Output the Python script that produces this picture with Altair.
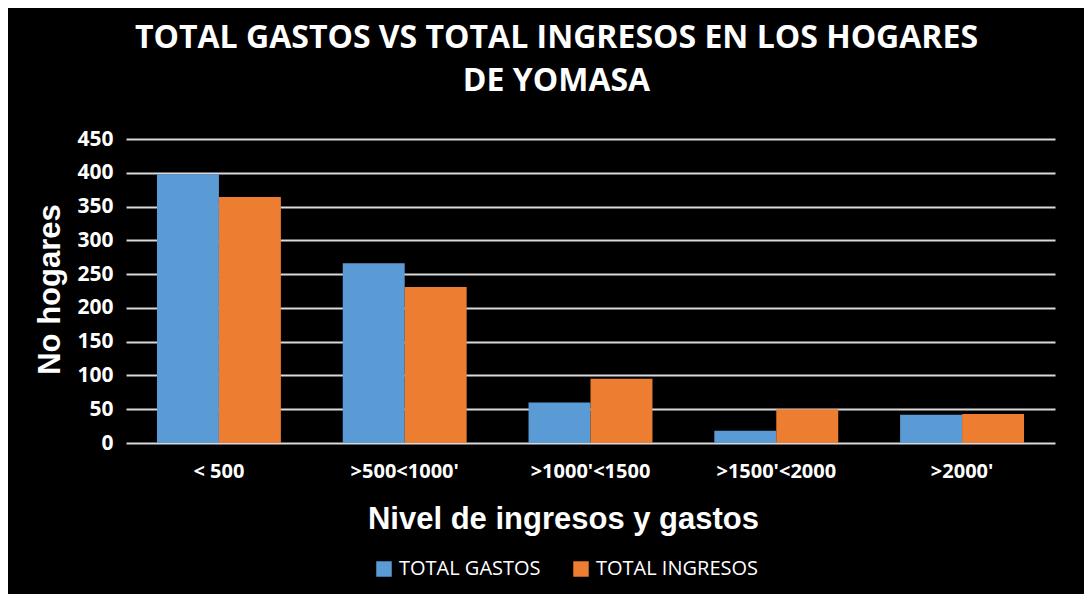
import altair as alt
import pandas as pd

categorias = ["< 500", ">500<1000'", ">1000'<1500", ">1500'<2000", ">2000'"]
total_gastos = [398, 266, 60, 18, 42]
total_ingresos = [364, 231, 95, 50, 43]
series = ["TOTAL GASTOS", "TOTAL INGRESOS"]
colores = ["#5B9BD5", "#ED7D31"]
y_ticks = [0, 50, 100, 150, 200, 250, 300, 350, 400, 450]

rows = []
for c, g, i in zip(categorias, total_gastos, total_ingresos):
    rows.append({"cat": c, "serie": series[0], "valor": g})
    rows.append({"cat": c, "serie": series[1], "valor": i})
df = pd.DataFrame(rows)

LABEL_FONT = "Open Sans"
TITLE_FONT = "Liberation Sans Narrow, Open Sans"
AXIS_TITLE_FONT = "Liberation Sans, Arial"

chart = alt.Chart(
    df,
    title=alt.Title(
        ["TOTAL GASTOS VS TOTAL INGRESOS EN LOS HOGARES", "DE YOMASA"],
        font=TITLE_FONT,
        fontSize=32,
        fontWeight="bold",
        color="white",
        anchor="middle",
        frame="group",
        dx=-34,
        lineHeight=43,
        offset=30,
    ),
).mark_bar().encode(
    x=alt.X(
        "cat:N",
        sort=categorias,
        scale=alt.Scale(paddingInner=0.333, paddingOuter=0.1667),
        axis=alt.Axis(
            title="Nivel de ingresos y gastos",
            labelAngle=0,
            labelFont=LABEL_FONT,
            labelFontSize=20,
            labelFontWeight="bold",
            labelColor="white",
            labelPadding=18,
            domain=False,
            ticks=False,
            titleFont=AXIS_TITLE_FONT,
            titleFontSize=31,
            titleFontWeight="bold",
            titleColor="white",
            titleX=437,
            titleY=76,
            titleAlign="center",
            titleBaseline="middle",
        ),
    ),
    xOffset=alt.XOffset("serie:N", sort=series, scale=alt.Scale(paddingInner=0, paddingOuter=0)),
    y=alt.Y(
        "valor:Q",
        scale=alt.Scale(domain=[0, 450], nice=False),
        axis=alt.Axis(
            title="No hogares",
            values=y_ticks,
            labelFont=LABEL_FONT,
            labelFontSize=21,
            labelFontWeight="bold",
            labelColor="white",
            labelPadding=13,
            domain=False,
            ticks=False,
            grid=True,
            gridColor="#D9D9D9",
            gridWidth=2,
            titleFont=AXIS_TITLE_FONT,
            titleFontSize=31,
            titleFontWeight="bold",
            titleColor="white",
            titleX=-76,
            titleY=150,
            titleAngle=270,
            titleAlign="center",
            titleBaseline="middle",
        ),
    ),
    color=alt.Color(
        "serie:N",
        scale=alt.Scale(domain=series, range=colores),
        legend=alt.Legend(
            title=None,
            orient="none",
            legendX=248,
            legendY=420,
            direction="horizontal",
            symbolType="square",
            symbolSize=240,
            symbolStrokeWidth=0,
            symbolOpacity=1,
            labelFont=LABEL_FONT,
            labelFontSize=20,
            labelColor="white",
            labelOffset=5,
            labelLimit=400,
            columnPadding=30,
        ),
    ),
).properties(
    width=929,
    height=304,
    background="black",
    autosize=alt.AutoSizeParams(type="none"),
    padding={"left": 118, "top": 131, "right": 29, "bottom": 151},
).configure_view(
    stroke=None
)

chart.save("out.html", embed_options={"renderer": "svg", "actions": False})
